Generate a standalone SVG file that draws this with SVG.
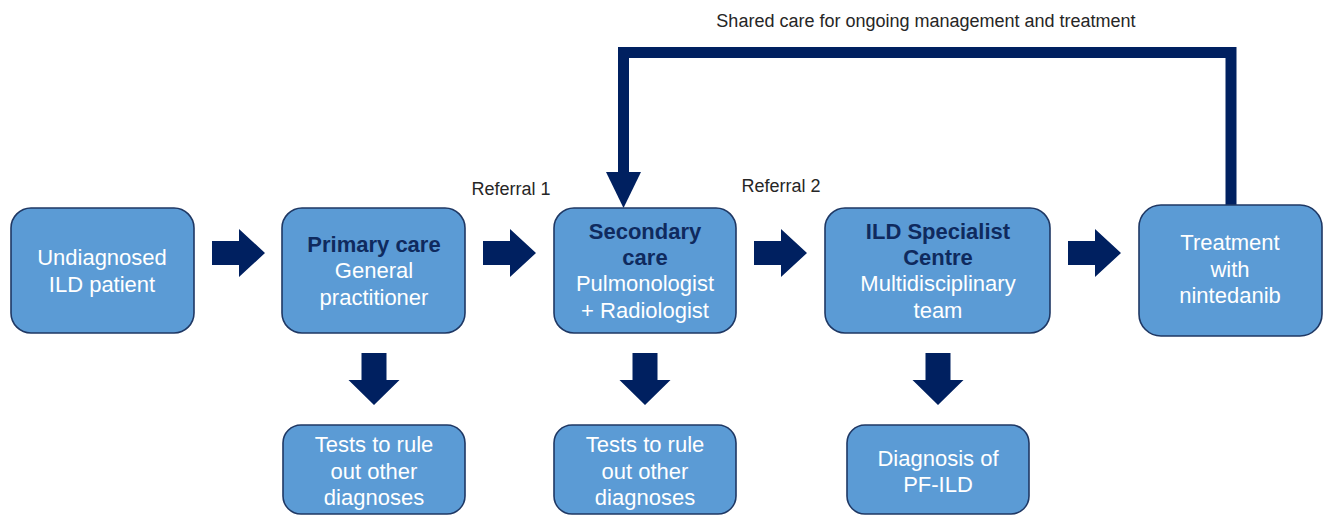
<svg xmlns="http://www.w3.org/2000/svg" width="1327" height="516" viewBox="0 0 1327 516">
  <style>
    .box { fill: #5B9BD5; stroke: #1F3864; stroke-width: 1.6; }
    .t { font-family: "Liberation Sans", Arial, sans-serif; font-size: 22px; text-anchor: middle; fill: #FFFFFF; }
    .b { font-weight: bold; fill: #0F2A5E; }
    .lbl { font-family: "Liberation Sans", Arial, sans-serif; font-size: 18px; fill: #262626; }
    .arr { fill: #002060; }
  </style>
  <defs>
    <path id="right" d="M0,-12 H27 V-24 L53,0 L27,24 V12 H0 Z"/>
    <path id="down" d="M-12.5,0 H12.5 V27 H25.5 L0,52 L-25.5,27 H-12.5 Z"/>
  </defs>

  <rect width="1327" height="516" fill="#FFFFFF"/>

  <!-- connectors -->
  <g id="connectors" class="arr">
    <use href="#right" x="212" y="253"/>
    <use href="#right" x="483" y="253"/>
    <use href="#right" x="754" y="253"/>
    <use href="#right" x="1068" y="253"/>
    <use href="#down" x="374" y="353"/>
    <use href="#down" x="645" y="353"/>
    <use href="#down" x="938" y="353"/>
    <!-- shared care loop back to secondary care -->
    <path d="M1231,206 V52.5 H623.5 V174" fill="none" stroke="#002060" stroke-width="11" stroke-linejoin="miter"/>
    <path d="M606,172 H641 L623.5,208 Z"/>
  </g>

  <g id="labels">
    <text class="lbl" x="926" y="27" text-anchor="middle">Shared care for ongoing management and treatment</text>
    <text class="lbl" x="511" y="195" text-anchor="middle">Referral 1</text>
    <text class="lbl" x="781" y="192" text-anchor="middle">Referral 2</text>
  </g>

  <g id="undiagnosed">
    <rect class="box" x="11" y="208" width="183" height="125" rx="20"/>
    <text class="t" x="102" y="265">Undiagnosed</text>
    <text class="t" x="102" y="292">ILD patient</text>
  </g>

  <g id="primary-care">
    <rect class="box" x="282" y="208" width="183" height="125" rx="20"/>
    <text class="t b" x="374" y="252">Primary care</text>
    <text class="t" x="374" y="278">General</text>
    <text class="t" x="374" y="305">practitioner</text>
  </g>

  <g id="secondary-care">
    <rect class="box" x="554" y="208" width="182" height="125" rx="20"/>
    <text class="t b" x="645" y="239">Secondary</text>
    <text class="t b" x="645" y="265">care</text>
    <text class="t" x="645" y="291">Pulmonologist</text>
    <text class="t" x="645" y="318">+ Radiologist</text>
  </g>

  <g id="ild-centre">
    <rect class="box" x="825" y="208" width="225" height="125" rx="20"/>
    <text class="t b" x="938" y="239">ILD Specialist</text>
    <text class="t b" x="938" y="265">Centre</text>
    <text class="t" x="938" y="291">Multidisciplinary</text>
    <text class="t" x="938" y="318">team</text>
  </g>

  <g id="treatment">
    <rect class="box" x="1139" y="205" width="183" height="131" rx="22"/>
    <text class="t" x="1230" y="250">Treatment</text>
    <text class="t" x="1230" y="277">with</text>
    <text class="t" x="1230" y="303">nintedanib</text>
  </g>

  <g id="tests-primary">
    <rect class="box" x="283" y="425" width="182" height="89" rx="18"/>
    <text class="t" x="374" y="452">Tests to rule</text>
    <text class="t" x="374" y="479">out other</text>
    <text class="t" x="374" y="505">diagnoses</text>
  </g>

  <g id="tests-secondary">
    <rect class="box" x="554" y="425" width="182" height="89" rx="18"/>
    <text class="t" x="645" y="452">Tests to rule</text>
    <text class="t" x="645" y="479">out other</text>
    <text class="t" x="645" y="505">diagnoses</text>
  </g>

  <g id="diagnosis">
    <rect class="box" x="847" y="425" width="182" height="89" rx="18"/>
    <text class="t" x="938" y="466">Diagnosis of</text>
    <text class="t" x="938" y="492">PF-ILD</text>
  </g>
</svg>
